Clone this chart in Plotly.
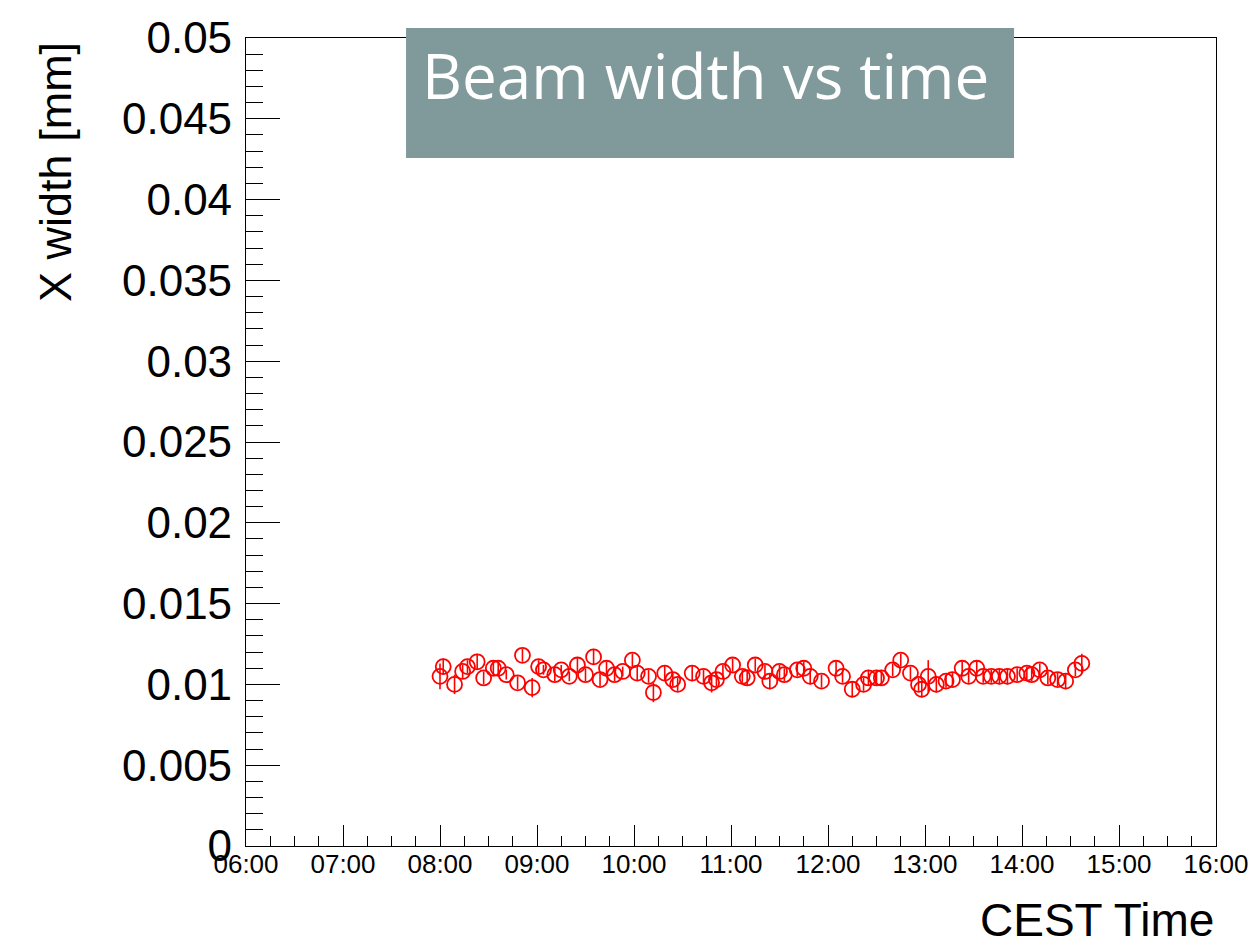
import plotly.graph_objects as go

# ---- data ----
times = ["08:00", "08:02", "08:09", "08:14", "08:17", "08:23", "08:27", "08:33", "08:36", "08:41",
         "08:48", "08:51", "08:57", "09:01", "09:04", "09:11", "09:15", "09:20", "09:25", "09:30",
         "09:35", "09:39", "09:43", "09:48", "09:53", "09:59", "10:02", "10:09", "10:12", "10:19",
         "10:24", "10:27", "10:36", "10:43", "10:48", "10:51", "10:55", "11:01", "11:07", "11:10",
         "11:15", "11:21", "11:24", "11:30", "11:33", "11:41", "11:45", "11:49", "11:56", "12:05",
         "12:09", "12:15", "12:22", "12:25", "12:30", "12:33", "12:40", "12:45", "12:51", "12:56",
         "12:58", "13:02", "13:07", "13:13", "13:17", "13:23", "13:27", "13:32", "13:36", "13:41",
         "13:46", "13:51", "13:57", "14:03", "14:06", "14:11", "14:16", "14:22", "14:27", "14:33",
         "14:37"]
widths = [0.0105, 0.0111, 0.0100, 0.0108, 0.0111, 0.0114, 0.0104, 0.0110, 0.0110, 0.0106,
          0.0101, 0.0118, 0.0098, 0.0111, 0.0109, 0.0106, 0.0109, 0.0105, 0.0112, 0.0106,
          0.0117, 0.0103, 0.0110, 0.0106, 0.0108, 0.0115, 0.0107, 0.0105, 0.0095, 0.0107,
          0.0103, 0.0100, 0.0107, 0.0105, 0.0101, 0.0103, 0.0108, 0.0112, 0.0105, 0.0104,
          0.0112, 0.0108, 0.0102, 0.0108, 0.0106, 0.0109, 0.0110, 0.0105, 0.0102, 0.0110,
          0.0105, 0.0097, 0.0100, 0.0104, 0.0104, 0.0104, 0.0109, 0.0115, 0.0107, 0.0100,
          0.0097, 0.0105, 0.0100, 0.0102, 0.0103, 0.0110, 0.0105, 0.0110, 0.0105, 0.0105,
          0.0105, 0.0105, 0.0106, 0.0107, 0.0106, 0.0109, 0.0104, 0.0103, 0.0102, 0.0109,
          0.0113]
errors = [0.0008, 0.0005, 0.0006, 0.0004, 0.0004, 0.0005, 0.0004, 0.0004, 0.0004, 0.0003,
          0.0004, 0.0004, 0.0006, 0.0004, 0.0003, 0.0004, 0.0003, 0.0003, 0.0005, 0.0004,
          0.0005, 0.0004, 0.0004, 0.0004, 0.0003, 0.0004, 0.0005, 0.0004, 0.0006, 0.0005,
          0.0004, 0.0004, 0.0005, 0.0004, 0.0006, 0.0004, 0.0004, 0.0004, 0.0004, 0.0005,
          0.0004, 0.0004, 0.0005, 0.0004, 0.0004, 0.0004, 0.0004, 0.0005, 0.0004, 0.0004,
          0.0004, 0.0005, 0.0004, 0.0005, 0.0005, 0.0004, 0.0004, 0.0004, 0.0004, 0.0004,
          0.0005, 0.0010, 0.0005, 0.0004, 0.0004, 0.0004, 0.0004, 0.0005, 0.0004, 0.0004,
          0.0005, 0.0005, 0.0004, 0.0004, 0.0004, 0.0004, 0.0004, 0.0004, 0.0005, 0.0004,
          0.0006]
day = "2024-06-01"
x_range = ["06:00", "16:00"]
y_range = [0, 0.05]
y_ticks = [0, 0.005, 0.01, 0.015, 0.02, 0.025, 0.03, 0.035, 0.04, 0.045, 0.05]
y_ticklabels = ["0", "0.005", "0.01", "0.015", "0.02", "0.025", "0.03", "0.035", "0.04", "0.045", "0.05"]

title_text = "Beam width vs time"
y_title = "X width [mm]"
x_title = "CEST Time"

xs = [f"{day} {t}:00" for t in times]

fig = go.Figure()
fig.add_trace(go.Scatter(
    x=xs, y=widths, mode="markers",
    marker=dict(symbol="circle-open", size=15, color="#ff0000", line=dict(width=1.8, color="#ff0000")),
    error_y=dict(type="data", array=errors, visible=True, color="#ff0000", thickness=1.6, width=0),
    showlegend=False,
))

axis_font = dict(family="Liberation Sans, Arial, sans-serif", color="black")

fig.update_layout(
    width=1250, height=948,
    margin=dict(l=246, r=34, t=38, b=102),
    paper_bgcolor="white", plot_bgcolor="white",
    xaxis=dict(
        type="date", automargin=False,
        range=[f"{day} {x_range[0]}:00", f"{day} {x_range[1]}:00"],
        tickformat="%H:%M", dtick=3600000, tick0=f"{day} 06:00:00",
        ticks="inside", ticklen=21, tickwidth=1.2, tickcolor="black",
        minor=dict(dtick=900000, ticks="inside", ticklen=10, tickwidth=1.2, tickcolor="black"),
        showline=True, linecolor="black", linewidth=1.2, mirror=True,
        showgrid=False, zeroline=False,
        tickfont=dict(size=26, **axis_font),
        ticklabelstandoff=-5,
    ),
    yaxis=dict(
        range=y_range, automargin=False,
        tickvals=y_ticks, ticktext=y_ticklabels,
        ticks="inside", ticklen=34, tickwidth=1.2, tickcolor="black",
        minor=dict(dtick=0.001, ticks="inside", ticklen=17, tickwidth=1.2, tickcolor="black"),
        showline=True, linecolor="black", linewidth=1.2, mirror=True,
        showgrid=False, zeroline=False,
        tickfont=dict(size=44, **axis_font),
        ticklabelstandoff=4,
    ),
    shapes=[dict(
        type="rect", xref="paper", yref="paper",
        x0=0.165, x1=0.7918, y0=0.8515, y1=1.0124,
        fillcolor="#809a9c", line=dict(width=0), layer="above",
    )],
    annotations=[
        dict(text=title_text, xref="paper", yref="paper", x=0.1794, y=0.954,
             xanchor="left", yanchor="middle", showarrow=False,
             font=dict(family="Open Sans, DejaVu Sans, sans-serif", size=62, color="white")),
        dict(text=y_title, xref="paper", yref="paper", x=-0.197, y=0.9975,
             xanchor="center", yanchor="top", textangle=-90, showarrow=False,
             font=dict(size=45, **axis_font)),
        dict(text=x_title, xref="paper", yref="paper", x=1.0, y=-0.091,
             xanchor="right", yanchor="middle", showarrow=False,
             font=dict(size=46, **axis_font)),
    ],
)

fig.write_html("out.html")
